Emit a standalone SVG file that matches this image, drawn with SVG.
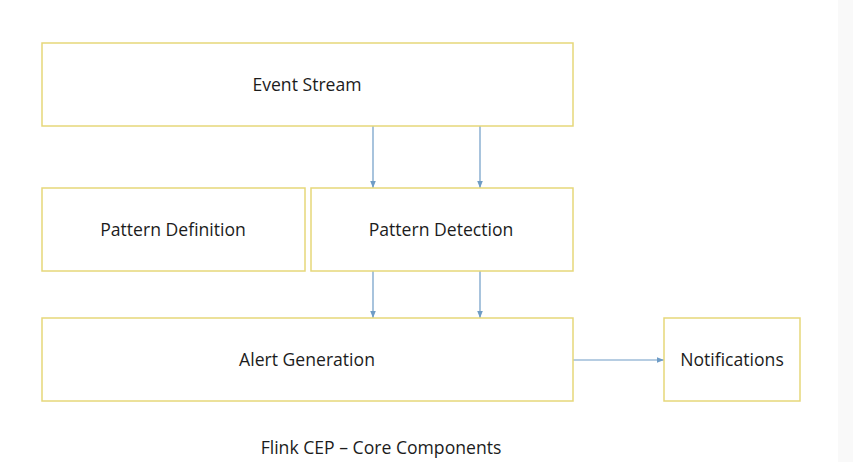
<svg xmlns="http://www.w3.org/2000/svg" width="853" height="462" viewBox="0 0 853 462">
<style>
.box{fill:#fff;stroke:#E6D77A;stroke-width:1.5}
.lbl{font-family:"Open Sans","Liberation Sans",sans-serif;font-size:17.6px;fill:#1c1c1c;text-anchor:middle;dominant-baseline:central}
.con{stroke:#6E9CC6;stroke-width:1.2;fill:none}
</style>
<defs>
<marker id="ah" viewBox="0 0 10 10" refX="10" refY="5" markerWidth="6" markerHeight="6" orient="auto"><path d="M0,1 L10,5 L0,9 z" fill="#6E9CC6"/></marker>
</defs>
<rect width="853" height="462" fill="#fff"/>
<rect x="838" y="0" width="15" height="462" fill="#f9f9f9"/>
<g id="connectors">
<line class="con" x1="373" y1="126" x2="373" y2="188" marker-end="url(#ah)"/>
<line class="con" x1="480" y1="126" x2="480" y2="188" marker-end="url(#ah)"/>
<line class="con" x1="373" y1="271" x2="373" y2="318" marker-end="url(#ah)"/>
<line class="con" x1="480" y1="271" x2="480" y2="318" marker-end="url(#ah)"/>
<line class="con" x1="573" y1="360" x2="664" y2="360" marker-end="url(#ah)"/>
</g>
<g id="event-stream"><rect class="box" x="42" y="43" width="531" height="83"/><text class="lbl" x="307" y="84">Event Stream</text></g>
<g id="pattern-definition"><rect class="box" x="42" y="188" width="263" height="83"/><text class="lbl" x="173" y="229">Pattern Definition</text></g>
<g id="pattern-detection"><rect class="box" x="311" y="188" width="262" height="83"/><text class="lbl" x="441" y="229">Pattern Detection</text></g>
<g id="alert-generation"><rect class="box" x="42" y="318" width="531" height="83"/><text class="lbl" x="307" y="359">Alert Generation</text></g>
<g id="notifications"><rect class="box" x="664" y="318" width="136" height="83"/><text class="lbl" x="732" y="359">Notifications</text></g>
<text class="lbl" x="381" y="447">Flink CEP – Core Components</text>
</svg>
